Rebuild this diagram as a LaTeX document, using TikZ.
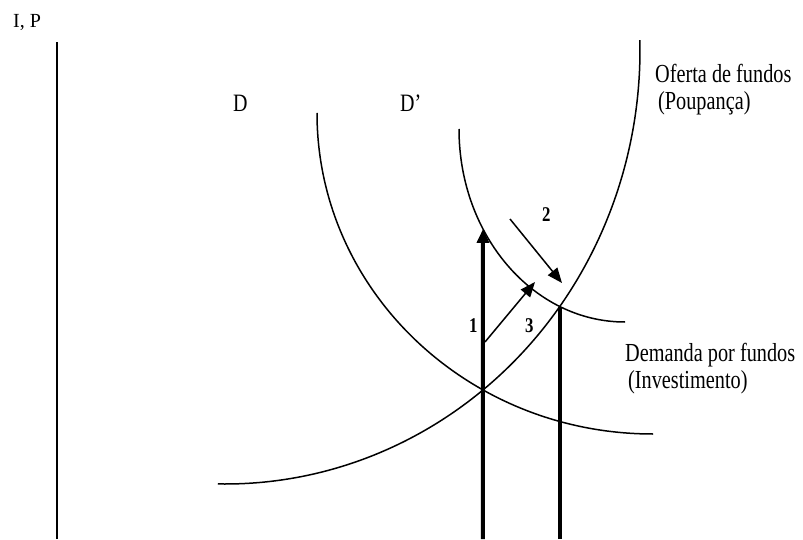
\documentclass[tikz,border=0pt]{standalone}
\usepackage{fontspec}
\setmainfont{Liberation Serif}
\usetikzlibrary{arrows.meta,intersections}
\begin{document}
\begin{tikzpicture}[x=1pt,y=1pt,
  curve/.style={line width=1.5pt},
  axisline/.style={line width=2.6pt},
  thickline/.style={line width=4pt},
  thinarrow/.style={line width=1.5pt,-{Triangle[length=15pt,width=12pt]}},
  lbl/.style={inner sep=0pt,anchor=base west,transform shape,xscale=0.78,font=\fontsize{26}{28}\selectfont},
  dlbl/.style={inner sep=0pt,anchor=base west,transform shape,xscale=0.8,font=\fontsize{25}{27}\selectfont},
  num/.style={inner sep=0pt,anchor=base west,transform shape,xscale=0.8,font=\fontsize{21}{23}\selectfont\bfseries}]
\useasboundingbox (0,0) rectangle (803,539);
% axis
\coordinate (axB) at (57,0);
\coordinate (axT) at (57,497);
\draw[axisline] (axB) -- (axT);
\node[inner sep=0pt,anchor=base west,font=\fontsize{20}{22}\selectfont] (ip) at (13,511) {I, P};
% supply curve
\draw[curve,name path=S] (225,489) ++(-91:415 and 434) coordinate (Sstart)
  arc[start angle=-91,end angle=1.3,x radius=415,y radius=434];
% demand D
\draw[curve,name path=D] (317,426) arc[start angle=180,end angle=270,x radius=336,y radius=321];
% demand D'
\draw[curve,name path=Dp] (459,410) arc[start angle=180,end angle=270,x radius=166,y radius=193];
% intersections
\path[name intersections={of=S and D,by=E1}];
\path[name intersections={of=S and Dp,by=E2}];
\coordinate (B1) at (E1 |- 0,0);
\coordinate (B2) at (E2 |- 0,0);
\path[name path=v1] (B1) -- (E1 |- 0,539);
\path[name intersections={of=v1 and Dp,by=T1}];
% vertical arrow and line
\draw[thickline,-{Triangle[length=14pt,width=12pt]}] (B1) -- (T1);
\draw[thickline] (B2) -- (E2);
% thin arrows
\coordinate (a3s) at (485,197);
\coordinate (a3e) at (535,257);
\draw[thinarrow] (a3s) -- (a3e);
\coordinate (a2s) at (510,320);
\coordinate (a2e) at (562,256);
\draw[thinarrow] (a2s) -- (a2e);
% labels
\node[dlbl] (dl) at (233,427) {D};
\node[dlbl] (dpl) at (400,427) {D'};
\node[lbl] (of1) at (655,456) {Oferta de fundos};
\node[lbl] (of2) at (658,429) {(Poupança)};
\node[lbl] (dm1) at (625,178) {Demanda por fundos};
\node[lbl] (dm2) at (628,151) {(Investimento)};
\node[num] (n1) at (469,207) {1};
\node[num] (n3) at (525,207) {3};
\node[num] (n2) at (542,317) {2};
\end{tikzpicture}
\end{document}
